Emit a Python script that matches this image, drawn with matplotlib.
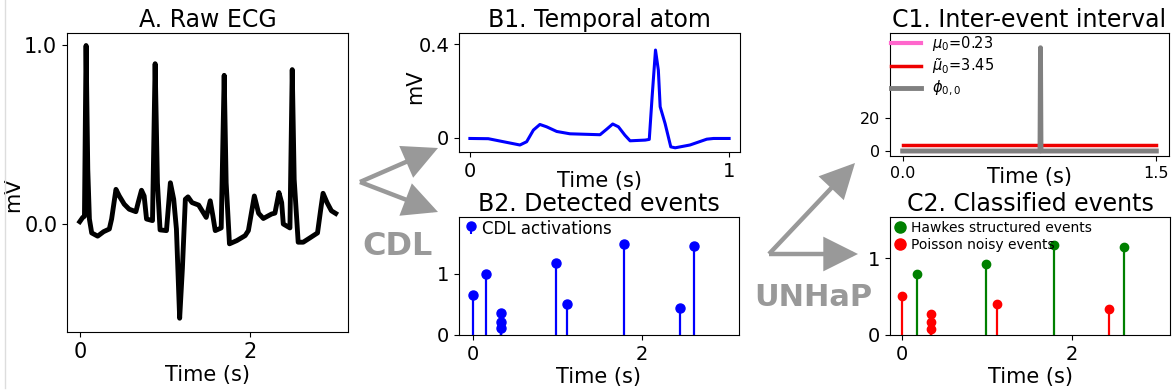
import numpy as np
import matplotlib
matplotlib.use("Agg")
import matplotlib.pyplot as plt
from matplotlib.patches import FancyArrowPatch
from matplotlib.lines import Line2D

# ---------------- data ----------------
ecg_t = [0.000, 0.035, 0.055, 0.074, 0.094, 0.113, 0.140, 0.210, 0.280, 0.347,
         0.374, 0.425, 0.464, 0.522, 0.580, 0.659, 0.686, 0.725, 0.756, 0.784,
         0.854, 0.885, 0.912, 0.943, 1.018, 1.064, 1.103, 1.135, 1.173, 1.205,
         1.240, 1.271, 1.318, 1.396, 1.485, 1.532, 1.563, 1.591, 1.661, 1.696,
         1.719, 1.758, 1.844, 1.942, 1.980, 2.050, 2.100, 2.156, 2.253, 2.292,
         2.339, 2.371, 2.390, 2.468, 2.495, 2.518, 2.565, 2.624, 2.702, 2.792,
         2.830, 2.857, 2.904, 2.955, 3.006]
ecg_v = [0.013, 0.037, 0.043, 1.000, 0.306, 0.028, -0.050, -0.068, -0.043, -0.028,
         0.028, 0.194, 0.157, 0.111, 0.083, 0.069, 0.120, 0.189, 0.157, 0.028,
         0.019, 0.898, 0.231, -0.033, -0.037, 0.231, 0.139, -0.028, -0.528, -0.250,
         0.139, 0.152, 0.120, 0.106, 0.037, 0.130, 0.046, -0.037, -0.022, 0.833,
         0.231, -0.111, -0.093, -0.065, -0.037, 0.157, 0.060, 0.031, 0.056, 0.061,
         0.176, 0.120, 0.000, -0.022, 0.865, 0.250, -0.102, -0.102, -0.078, -0.050,
         0.083, 0.172, 0.120, 0.074, 0.059]

atom_t = [0.000, 0.071, 0.116, 0.193, 0.219, 0.245, 0.270, 0.296, 0.335, 0.386,
          0.502, 0.528, 0.551, 0.573, 0.598, 0.618, 0.676, 0.692, 0.703, 0.716,
          0.727, 0.734, 0.753, 0.775, 0.792, 0.849, 0.914, 0.940, 1.000]
atom_v = [-0.003, -0.004, -0.014, -0.031, -0.017, 0.033, 0.057, 0.047, 0.027, 0.017,
          0.013, 0.037, 0.059, 0.047, 0.011, -0.013, -0.010, -0.007, 0.176, 0.376,
          0.290, 0.133, 0.061, -0.039, -0.043, -0.031, -0.006, -0.003, -0.003]

event_t = [0.00, 0.16, 0.33, 0.33, 0.33, 0.98, 1.11, 1.79, 2.44, 2.61]
event_cdl = [0.65, 1.00, 0.36, 0.22, 0.11, 1.18, 0.51, 1.49, 0.44, 1.45]

hawkes_t = [0.17, 0.98, 1.79, 2.61]
hawkes_v = [0.79, 0.93, 1.18, 1.15]
poisson_t = [0.00, 0.34, 0.34, 0.34, 1.11, 2.43]
poisson_v = [0.51, 0.28, 0.17, 0.08, 0.41, 0.34]

mu0 = 0.23
mu0_tilde = 3.45
kernel_t = [0.0, 0.812, 0.815, 0.818, 1.5]
kernel_v = [0.0, 0.0, 61.8, 0.0, 0.0]
c1_range = [0.0, 1.5]

# ---------------- figure ----------------
W, H = 1176, 392
fig = plt.figure(figsize=(W / 100, H / 100), dpi=100)

def box(l, r, t, b):
    return [l / W, (H - b) / H, (r - l) / W, (b - t) / H]

TITLE = 17
ARROW_C = "#999999"

# A
axA = fig.add_axes(box(67, 348, 33, 332))
axA.plot(ecg_t, ecg_v, color="black", lw=3.5, solid_joinstyle="round")
axA.set_xlim(-0.15, 3.15)
axA.set_ylim(-0.605, 1.07)
axA.set_xticks([0, 2])
axA.set_yticks([0.0, 1.0])
axA.set_yticklabels(["0.0", "1.0"])
axA.tick_params(labelsize=15)
axA.set_title("A. Raw ECG", fontsize=TITLE, pad=4)
axA.set_xlabel("Time (s)", fontsize=15, labelpad=2)
axA.set_ylabel("mV", fontsize=15)
axA.yaxis.set_label_coords(-0.157, 0.46)

# B1
axB1 = fig.add_axes(box(459, 740, 33, 152))
axB1.plot(atom_t, atom_v, color="blue", lw=2.2)
axB1.set_xlim(-0.042, 1.042)
axB1.set_ylim(-0.061, 0.449)
axB1.set_xticks([0, 1])
axB1.set_yticks([0, 0.4])
axB1.set_yticklabels(["0", "0.4"])
axB1.tick_params(labelsize=14)
axB1.set_title("B1. Temporal atom", fontsize=TITLE, pad=4)
axB1.set_xlabel("Time (s)", fontsize=15, labelpad=-7)
axB1.set_ylabel("mV", fontsize=15)
axB1.yaxis.set_label_coords(-0.121, 0.55)

# B2
axB2 = fig.add_axes(box(459, 739, 217, 335))
ml, sl, bl = axB2.stem(event_t, event_cdl, linefmt="b-", markerfmt="bo",
                       basefmt=" ", label="CDL activations")
sl.set_linewidth(1.6)
ml.set_markersize(6.5)
axB2.set_xlim(-0.16, 3.14)
axB2.set_ylim(0, 1.93)
axB2.set_xticks([0, 2])
axB2.set_yticks([0, 1])
axB2.tick_params(labelsize=14)
axB2.set_title("B2. Detected events", fontsize=TITLE, pad=4)
axB2.set_xlabel("Time (s)", fontsize=15, labelpad=2)
axB2.legend(loc="upper left", frameon=False, fontsize=12, handlelength=1.0,
            handletextpad=0.2, borderaxespad=0.1, borderpad=0.1, markerscale=1.35)

# C1
axC1 = fig.add_axes(box(890, 1169, 33, 156))
axC1.plot(c1_range, [mu0, mu0], color="#ff66cc", lw=3, label=r"$\mu_0$=0.23")
axC1.plot(c1_range, [mu0_tilde, mu0_tilde], color="#ee0000", lw=2.5,
          label=r"$\tilde{\mu}_0$=3.45")
axC1.plot(kernel_t, kernel_v, color="gray", lw=3.5, label=r"$\phi_{0,0}$")
axC1.set_xlim(-0.075, 1.575)
axC1.set_ylim(-3, 70.6)
axC1.set_xticks([0.0, 1.5])
axC1.set_xticklabels(["0.0", "1.5"])
axC1.set_yticks([0, 20])
axC1.tick_params(labelsize=11.5)
axC1.set_title("C1. Inter-event interval", fontsize=TITLE, pad=4)
axC1.set_xlabel("Time (s)", fontsize=15, labelpad=-10)
axC1.legend(loc="upper left", frameon=False, fontsize=10.5, handlelength=2,
            handletextpad=0.8, borderaxespad=0.1, borderpad=0.0, labelspacing=0.2)

# C2
axC2 = fig.add_axes(box(890, 1170, 217, 335))
m1, s1, b1 = axC2.stem(hawkes_t, hawkes_v, linefmt="g-", markerfmt="go", basefmt=" ")
m2, s2, b2 = axC2.stem(poisson_t, poisson_v, linefmt="r-", markerfmt="ro", basefmt=" ")
for s in (s1, s2):
    s.set_linewidth(1.6)
for m in (m1, m2):
    m.set_markersize(6)
axC2.set_xlim(-0.145, 3.15)
axC2.set_ylim(0, 1.54)
axC2.set_xticks([0, 2])
axC2.set_yticks([0, 1])
axC2.tick_params(labelsize=14)
axC2.set_title("C2. Classified events", fontsize=TITLE, pad=4)
axC2.set_xlabel("Time (s)", fontsize=15, labelpad=2)
handles = [Line2D([], [], marker="o", ls="", color="green", markersize=8),
           Line2D([], [], marker="o", ls="", color="red", markersize=8)]
axC2.legend(handles, ["Hawkes structured events", "Poisson noisy events"],
            loc="upper left", frameon=False, fontsize=10, handlelength=0.8,
            handletextpad=0.4, borderaxespad=0.1, borderpad=0.2, labelspacing=0.2)

# arrows and method names
def arrow(p0, p1):
    a = FancyArrowPatch((p0[0] / W, 1 - p0[1] / H), (p1[0] / W, 1 - p1[1] / H),
                        transform=fig.transFigure, arrowstyle="-|>,head_length=0.9,head_width=0.45",
                        mutation_scale=22, lw=3.2, color=ARROW_C, shrinkA=0, shrinkB=0,
                        joinstyle="miter", capstyle="butt")
    fig.add_artist(a)

arrow((360, 182), (438, 148))
arrow((360, 182), (438, 212))
arrow((769, 254), (855, 163))
arrow((769, 254), (858, 254))

fig.text(398 / W, 1 - 247 / H, "CDL", fontsize=23, fontweight="bold", color=ARROW_C,
         ha="center", va="center")
fig.text(813 / W, 1 - 297 / H, "UNHaP", fontsize=22, fontweight="bold", color=ARROW_C,
         ha="center", va="center")

fig.add_artist(Line2D([5 / W, 5 / W], [0.01, 1.0], color="#dddddd", lw=1))

fig.savefig("out.png", dpi=100)
